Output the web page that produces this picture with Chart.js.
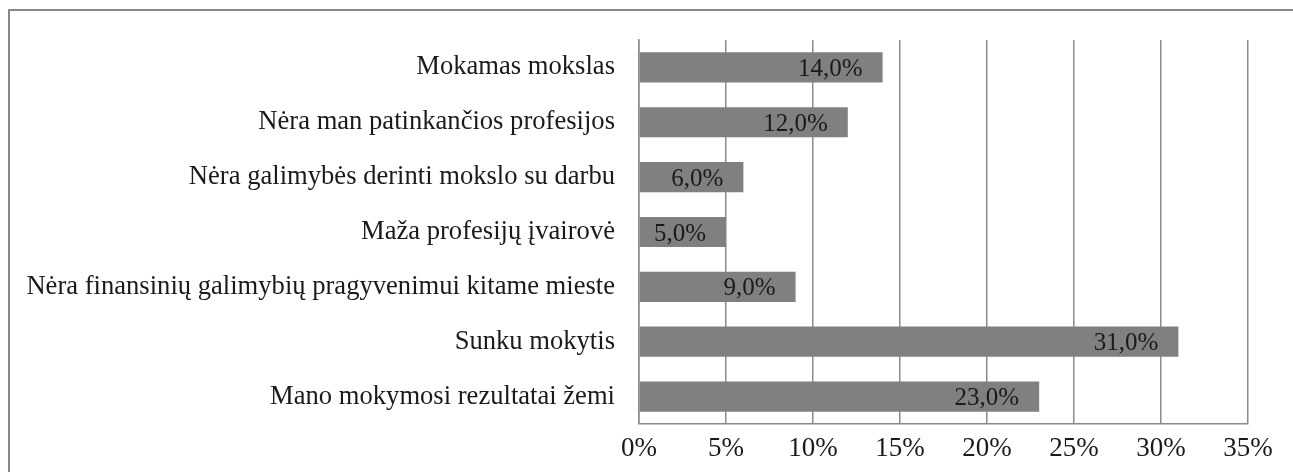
<!DOCTYPE html>
<html lang="lt">
  <head>
    <meta charset="UTF-8" />
    <title>Priežastys</title>
    <style>
      body,
      html {
        margin: 0;
        width: 1293px;
        height: 472px;
        overflow: hidden;
        background: #fff;
      }
      .frame {
        position: absolute;
        left: 8px;
        top: 9px;
        width: 1320px;
        height: 500px;
        border: 2px solid #888;
      }
      .chart-box {
        position: absolute;
        left: 0;
        top: 0;
        width: 1293px;
        height: 472px;
      }
    </style>
  </head>
  <body>
    <div class="frame"></div>
    <div class="chart-box">
      <canvas id="myChart"></canvas>
    </div>

    <script src="https://cdn.jsdelivr.net/npm/chart.js"></script>

    <script>
      // Kategorijos ir reikšmės (%)
      const categories = [
        "Mokamas mokslas",
        "Nėra man patinkančios profesijos",
        "Nėra galimybės derinti mokslo su darbu",
        "Maža profesijų įvairovė",
        "Nėra finansinių galimybių pragyvenimui kitame mieste",
        "Sunku mokytis",
        "Mano mokymosi rezultatai žemi",
      ];
      const values = [14, 12, 6, 5, 9, 31, 23];
      const tickValues = [0, 5, 10, 15, 20, 25, 30, 35];

      const serif = "'Liberation Serif', 'Times New Roman', serif";

      // Reikšmių etiketės juostų gale
      const valueLabels = {
        id: "valueLabels",
        afterDatasetsDraw(chart) {
          const ctx = chart.ctx;
          const meta = chart.getDatasetMeta(0);
          ctx.save();
          ctx.font = "25px " + serif;
          ctx.fillStyle = "#1a1a1a";
          ctx.textAlign = "right";
          ctx.textBaseline = "middle";
          meta.data.forEach((bar, i) => {
            const txt = values[i].toFixed(1).replace(".", ",") + "%";
            ctx.fillText(txt, bar.x - 20, bar.y + 2);
          });
          ctx.restore();
        },
      };

      const ctx = document.getElementById("myChart").getContext("2d");

      const myChart = new Chart(ctx, {
        type: "bar",
        data: {
          labels: categories,
          datasets: [
            {
              data: values,
              backgroundColor: "#808080",
              barPercentage: 0.55,
              categoryPercentage: 1,
            },
          ],
        },
        options: {
          indexAxis: "y",
          responsive: true,
          maintainAspectRatio: false,
          animation: false,
          layout: {
            padding: { top: 38, right: 45, bottom: 0, left: 0 },
          },
          plugins: {
            legend: { display: false },
            tooltip: { enabled: false },
          },
          scales: {
            x: {
              min: 0,
              max: 35,
              afterBuildTicks(scale) {
                scale.ticks = tickValues.map((v) => ({ value: v }));
              },
              afterFit(scale) {
                scale.height = 48;
              },
              ticks: {
                padding: 9,
                color: "#1a1a1a",
                font: { family: serif, size: 27 },
                maxRotation: 0,
                callback: (v) => v + "%",
              },
              grid: {
                color: "#8c8c8c",
                lineWidth: 1.5,
                drawTicks: false,
              },
              border: { color: "#8c8c8c", width: 1.5 },
            },
            y: {
              afterFit(scale) {
                scale.width = 639;
              },
              ticks: {
                padding: 24,
                color: "#1a1a1a",
                autoSkip: false,
                font: { family: serif, size: 26.6 },
              },
              grid: { display: false, drawTicks: false },
              border: { color: "#8c8c8c", width: 1.5 },
            },
          },
        },
        plugins: [valueLabels],
      });
    </script>
  </body>
</html>
